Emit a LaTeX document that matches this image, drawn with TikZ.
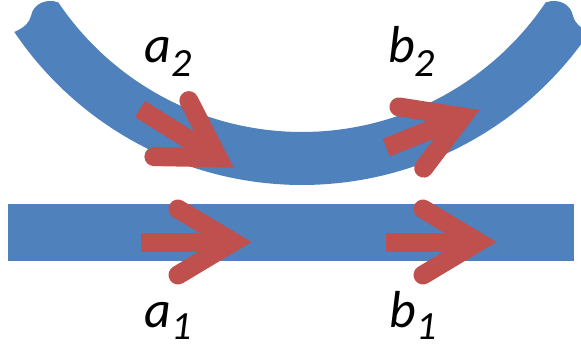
\documentclass[tikz,border=0pt]{standalone}
\usepackage{fontspec}
\setmainfont{Carlito}
\newcommand\subsz{\fontsize{40}{40}\selectfont\itshape}
\definecolor{bandblue}{HTML}{4F81BD}
\definecolor{arrowred}{HTML}{C0504D}
\tikzset{
  pics/redarrow/.style={code={
    \draw[arrowred, line width=19pt, line cap=butt] (#1,0) -- (92,0);
    \draw[arrowred, line width=19pt, line cap=round, line join=miter] (37,33) -- (92,0) -- (37,-33);
  }},
  pics/redarrow/.default=0,
  lbl/.style={anchor=base west, inner sep=0pt, font=\fontsize{52}{52}\selectfont\itshape}
}
\begin{document}
\begin{tikzpicture}[x=1pt, y=-1pt]
\useasboundingbox (0,0) rectangle (581,350);
\clip (0,0) rectangle (581,350);
% curved band
\fill[bandblue] plot[domain=146:34, samples=90] ({302+294*cos(\x)},{-162+294*sin(\x)})
  .. controls (558,-2) and (571,4) .. (573,16) .. controls (575,23) and (579,27) .. (589.7,32)
  -- plot[domain=34:146, samples=90] ({302+347*cos(\x)},{-162+347*sin(\x)})
  .. controls (25,27) and (29,23) .. (31,16) .. controls (33,4) and (46,-2) .. (58.3,2.4) -- cycle;
% straight band
\fill[bandblue] (8,204) rectangle (574,261);
% arrows
\pic[rotate=-32] at (140,109) {redarrow};
\pic[rotate=22] at (377,151.4) {redarrow=10};
\pic at (141,242) {redarrow};
\pic at (386,242) {redarrow};
% labels
\node[lbl] (a2) at (144,63) {\makebox[27pt][l]{a}\raisebox{-14pt}{\subsz 2}};
\node[lbl] (b2) at (388,63) {\makebox[26pt][l]{b}\raisebox{-14pt}{\subsz 2}};
\node[lbl] (a1) at (144,327.5) {\makebox[27pt][l]{a}\raisebox{-11.5pt}{\subsz 1}};
\node[lbl] (b1) at (389,327.5) {\makebox[27pt][l]{b}\raisebox{-11.5pt}{\subsz 1}};
\end{tikzpicture}
\end{document}
